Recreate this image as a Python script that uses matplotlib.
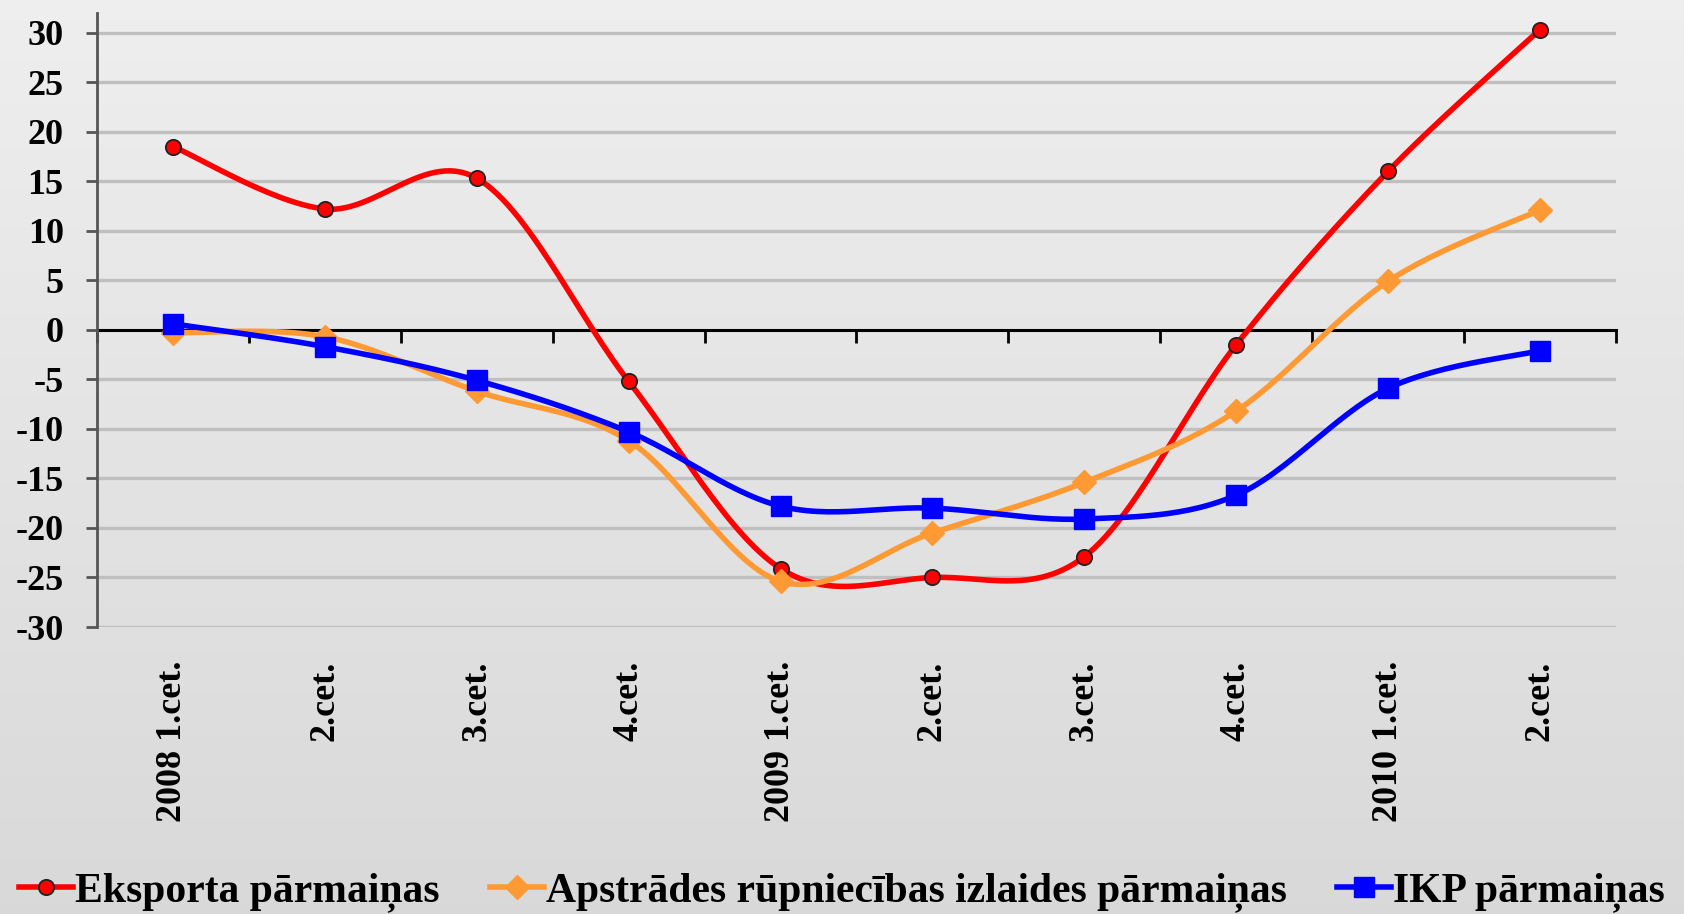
#!/usr/bin/env python3
"""Quarterly changes: exports, manufacturing output and GDP (2008-2010)."""

import numpy as np
import matplotlib
matplotlib.use("Agg")
import matplotlib.pyplot as plt
from matplotlib.lines import Line2D

quarters = ["2008 1.cet.", "2.cet.", "3.cet.", "4.cet.",
            "2009 1.cet.", "2.cet.", "3.cet.", "4.cet.",
            "2010 1.cet.", "2.cet."]
eksports = [18.5, 12.2, 15.3, -5.2, -24.1, -25.0, -22.9, -1.5, 16.0, 30.3]
apstrade = [-0.3, -0.7, -6.2, -11.2, -25.4, -20.5, -15.4, -8.2, 4.9, 12.1]
ikp = [0.6, -1.7, -5.1, -10.3, -17.8, -18.0, -19.1, -16.7, -5.9, -2.1]

names = ["Eksporta pārmaiņas",
         "Apstrādes rūpniecības izlaides pārmaiņas",
         "IKP pārmaiņas"]

plt.rcParams["font.family"] = ["Liberation Serif", "DejaVu Serif"]
plt.rcParams["font.weight"] = "bold"


def smooth(xs, ys, steps=30):
    """Excel-style smoothed line: cubic Bezier through each pair of points."""
    pts = np.column_stack([xs, ys]).astype(float)
    ext = np.vstack([pts[0], pts, pts[-1]])
    t = np.linspace(0, 1, steps)[:, None]
    out = []
    for i in range(1, len(ext) - 2):
        p0, p3 = ext[i], ext[i + 1]
        c1 = p0 + (ext[i + 1] - ext[i - 1]) / 6.0
        c2 = p3 - (ext[i + 2] - ext[i]) / 6.0
        seg = ((1 - t) ** 3) * p0 + 3 * ((1 - t) ** 2) * t * c1 \
            + 3 * (1 - t) * t ** 2 * c2 + t ** 3 * p3
        out.append(seg if i == 1 else seg[1:])
    seg = np.vstack(out)
    return seg[:, 0], seg[:, 1]


fig = plt.figure(figsize=(16.84, 9.14), dpi=100)

# light gray vertical gradient behind everything
bg = fig.add_axes([0, 0, 1, 1], zorder=-10)
grad = np.linspace(0.935, 0.85, 256)[:, None]
bg.imshow(np.dstack([grad, grad, grad]), aspect="auto", extent=[0, 1, 0, 1])
bg.set_axis_off()

ax = fig.add_axes([0.0576, 0.314, 0.9020, 0.672])
ax.patch.set_alpha(0)

x = np.arange(len(quarters))
series = [
    (eksports, "#ff0000", dict(marker="o", markersize=11, markerfacecolor="#ff0000",
                               markeredgecolor="#222222", markeredgewidth=1.3)),
    (apstrade, "#ff9933", dict(marker="D", markersize=12, markerfacecolor="#ff9933",
                               markeredgecolor="#ff9933")),
    (ikp, "#0000ff", dict(marker="s", markersize=14, markerfacecolor="#0000ff",
                          markeredgecolor="#0000ff")),
]

handles = []
for (vals, color, mk), name in zip(series, names):
    sx, sy = smooth(x, vals)
    ax.plot(sx, sy, color=color, linewidth=4.0, solid_capstyle="round", zorder=3)
    ax.plot(x, vals, linestyle="none", zorder=4, **mk)
    handles.append(Line2D([], [], color=color, linewidth=4.0, **mk))

ax.set_xlim(-0.5, len(quarters) - 0.5)
ax.set_ylim(-30, 32)
ax.set_yticks(np.arange(-30, 31, 5))
ax.set_yticklabels([str(v) for v in range(-30, 31, 5)], fontsize=26, fontweight="bold")
for v in range(-30, 31, 5):
    if v != 0:
        ax.axhline(v, color="#bfbfbf", linewidth=2.4, zorder=1)

ax.set_xticks(x)
ax.set_xticklabels(quarters, rotation=90, fontsize=26, fontweight="bold", va="top")
ax.tick_params(axis="x", length=0, pad=24)
ax.tick_params(axis="y", length=8, width=2, color="#555555", pad=16)

for side in ("top", "right", "bottom"):
    ax.spines[side].set_visible(False)
ax.spines["left"].set_color("#555555")
ax.spines["left"].set_linewidth(2)
ax.spines["left"].set_bounds(-30, 32)

# category axis crossing at zero
zero_ax = ax.secondary_xaxis(30 / 62)
zero_ax.set_xticks(np.arange(-0.5, len(quarters), 1.0))
zero_ax.set_xticklabels([])
zero_ax.tick_params(axis="x", direction="out", length=9, width=2, color="black")
zero_ax.spines["bottom"].set_color("black")
zero_ax.spines["bottom"].set_linewidth(2.2)

fig.legend(handles, names, loc="center", bbox_to_anchor=(0.5, 0.024), ncol=3,
           frameon=False, handlelength=1.3, handletextpad=0.05,
           columnspacing=1.2, prop={"weight": "bold", "size": 30})

fig.savefig("out.png", dpi=100)
